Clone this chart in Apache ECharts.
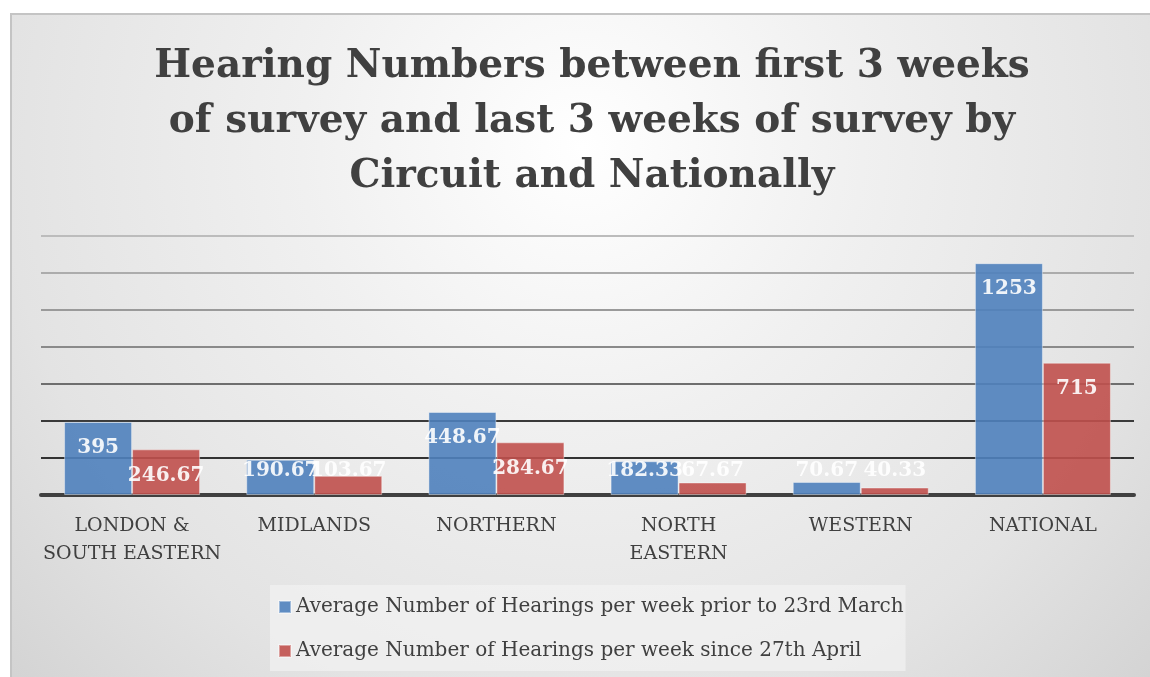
<!DOCTYPE html>
<html>
<head>
<meta charset="utf-8">
<script src="https://cdn.jsdelivr.net/npm/echarts@6/dist/echarts.min.js"></script>
<style>
  html, body { margin: 0; padding: 0; background: #fff; }
  #main { width: 1150px; height: 677px; }
</style>
</head>
<body>
<div id="main"></div>
<script>
// data
var circuits = ['LONDON &\nSOUTH EASTERN', 'MIDLANDS', 'NORTHERN', 'NORTH\nEASTERN', 'WESTERN', 'NATIONAL'];
var beforeLockdown = [395, 190.67, 448.67, 182.33, 70.67, 1253];
var sinceApril = [246.67, 103.67, 284.67, 67.67, 40.33, 715];
var seriesNames = [
  'Average Number of Hearings per week prior to 23rd March',
  'Average Number of Hearings per week since 27th April'
];

var serif = '"DejaVu Serif", serif';

// short bars get the label sitting just above the axis, like Excel did
function withLabels(arr) {
  return arr.map(function (v) {
    if (v < 200) {
      return { value: v, label: { position: 'insideBottom', distance: 14 } };
    }
    return v;
  });
}

var chartDom = document.getElementById('main');
var myChart = echarts.init(chartDom);
var option;

option = {
  backgroundColor: '#fff',
  animation: false,
  graphic: [{
    type: 'rect',
    z: -10,
    shape: { x: 11, y: 14, width: 1142, height: 666 },
    style: {
      fill: {
        type: 'radial', x: 0.5, y: 0.2, r: 1.2,
        colorStops: [
          { offset: 0, color: '#ffffff' },
          { offset: 0.35, color: '#f0f0f0' },
          { offset: 0.72, color: '#e3e3e3' },
          { offset: 1, color: '#d2d2d2' }
        ]
      },
      stroke: '#c4c4c4',
      lineWidth: 2
    }
  }],
  title: {
    text: 'Hearing Numbers between first 3 weeks\nof survey and last 3 weeks of survey by\nCircuit and Nationally',
    left: 587,
    top: 34,
    textAlign: 'center',
    textStyle: {
      fontFamily: serif,
      fontSize: 39,
      fontWeight: 'bold',
      color: '#404040',
      lineHeight: 55
    }
  },
  legend: {
    orient: 'vertical',
    left: 270,
    top: 585,
    icon: 'rect',
    itemWidth: 12,
    itemHeight: 12,
    itemGap: 24,
    padding: [12, 2, 10, 8],
    backgroundColor: 'rgba(242,242,242,0.7)',
    textStyle: { fontFamily: serif, fontSize: 20, color: '#404040' },
    data: seriesNames
  },
  grid: { left: 41, right: 16, top: 236, bottom: 182 },
  xAxis: {
    type: 'category',
    data: circuits,
    axisLine: { lineStyle: { color: '#404040', width: 4 } },
    axisTick: { show: false },
    axisLabel: {
      fontFamily: serif, fontSize: 19, color: '#404040',
      margin: 17, lineHeight: 28, interval: 0
    }
  },
  yAxis: {
    type: 'value',
    min: 0,
    max: 1400,
    interval: 200,
    axisLabel: { show: false },
    axisLine: { show: false },
    axisTick: { show: false },
    splitLine: {
      lineStyle: {
        width: 2,
        color: ['#404040', '#333333', '#3a3a3a', '#6e6e6e', '#8a8a8a', '#9a9a9a', '#acacac', '#bcbcbc']
      }
    }
  },
  series: [
    {
      name: seriesNames[0],
      type: 'bar',
      data: withLabels(beforeLockdown),
      barWidth: 68,
      barGap: '0%',
      itemStyle: { color: '#4f81bd', opacity: 0.9, borderColor: 'rgba(255,255,255,0.45)', borderWidth: 1 },
      label: {
        show: true, position: 'insideTop', distance: 16,
        fontFamily: serif, fontSize: 20, fontWeight: 'bold', color: '#fff'
      }
    },
    {
      name: seriesNames[1],
      type: 'bar',
      data: withLabels(sinceApril),
      barWidth: 68,
      itemStyle: { color: '#c0504d', opacity: 0.9, borderColor: 'rgba(255,255,255,0.45)', borderWidth: 1 },
      label: {
        show: true, position: 'insideTop', distance: 16,
        fontFamily: serif, fontSize: 20, fontWeight: 'bold', color: '#fff'
      }
    }
  ]
};

option && myChart.setOption(option);
</script>
</body>
</html>
